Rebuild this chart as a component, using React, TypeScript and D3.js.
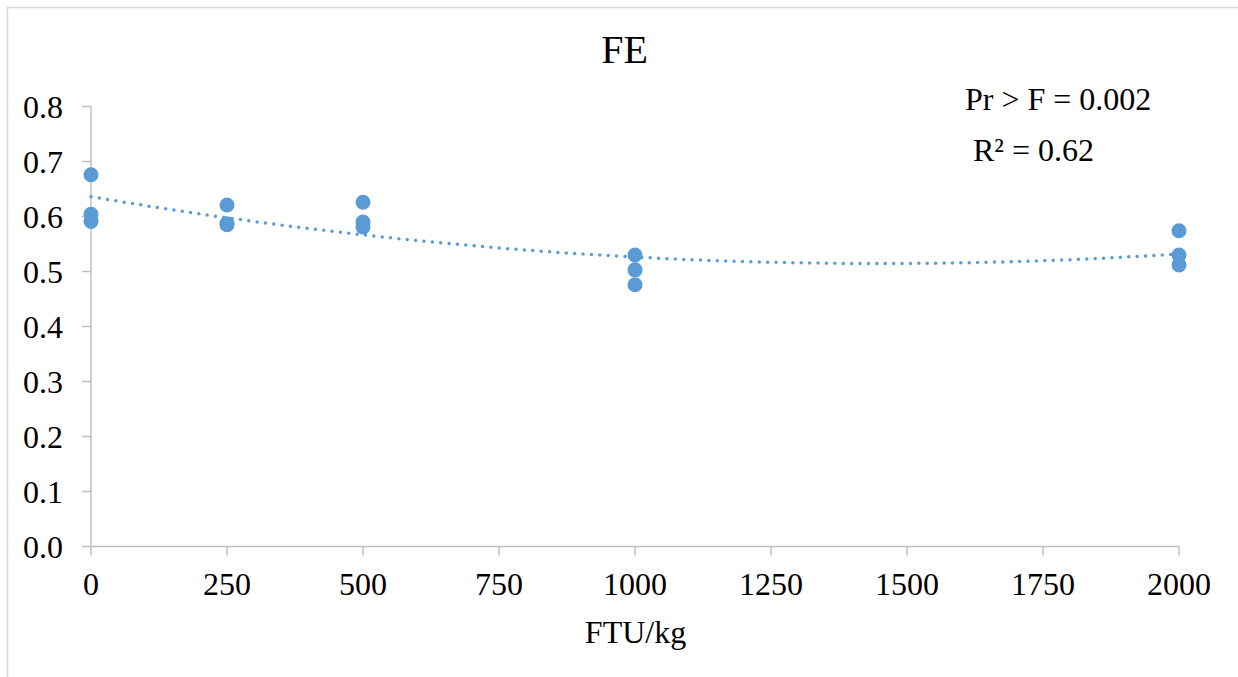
import React from 'react';
import { scaleLinear, line, range, format } from 'd3';

// FTU/kg doses and the FE replicates
const doses = [0, 0, 0, 250, 250, 250, 500, 500, 500, 1000, 1000, 1000, 2000, 2000, 2000];
const feValues = [0.676, 0.604, 0.591, 0.621, 0.585, 0.587, 0.626, 0.59, 0.581, 0.53, 0.503, 0.476, 0.574, 0.53, 0.512];

// quadratic trend (a + b*x + c*x^2) as drawn in the picture
const trendCoefficients = [0.636, -1.676e-4, 5.78e-8];

const xTicks = [0, 250, 500, 750, 1000, 1250, 1500, 1750, 2000];
const yTicks = [0, 0.1, 0.2, 0.3, 0.4, 0.5, 0.6, 0.7, 0.8];

const title = 'FE';
const xTitle = 'FTU/kg';
const notes = ['Pr > F = 0.002', 'R² = 0.62'];

const W = 1238;
const H = 677;
const FONT = "'Liberation Serif', 'Times New Roman', Times, serif";
const BLUE = '#5b9bd5';
const AXIS = '#bfbfbf';
const FS = 32;

export default function App() {
  const x = scaleLinear().domain([0, 2000]).range([91, 1179]);
  const y = scaleLinear().domain([0, 0.8]).range([546.5, 106.5]);

  const trend = (v: number) =>
    trendCoefficients[0] + trendCoefficients[1] * v + trendCoefficients[2] * v * v;

  // evaluate the fitted curve along the axis so it draws smooth
  const trendPath = line<number>()
    .x((d) => x(d))
    .y((d) => y(trend(d)))(range(0, 2001, 10));

  const fmtY = format('.1f');
  const txt = { fontFamily: FONT };

  return (
    <svg
      width={W}
      height={H}
      style={{ position: 'fixed', left: 0, top: 0, background: '#fff', fontFamily: FONT }}
    >
      <rect x={7.5} y={7.5} width={W + 10} height={H + 10} fill="#fff" stroke="#d9d9d9" strokeWidth={1.5} />

      <text x={624.5} y={63} fontSize={40} textAnchor="middle" fill="#000" style={txt}>
        {title}
      </text>

      {/* y axis */}
      <line x1={x(0)} x2={x(0)} y1={y(0)} y2={y(0.8)} stroke={AXIS} strokeWidth={1.5} />
      {yTicks.map((t) => (
        <g key={'y' + t}>
          <line x1={x(0) - 9} x2={x(0)} y1={y(t)} y2={y(t)} stroke={AXIS} strokeWidth={1.5} />
          <text x={63} y={y(t)} dy="0.35em" fontSize={FS} textAnchor="end" fill="#000" style={txt}>
            {fmtY(t)}
          </text>
        </g>
      ))}

      {/* x axis */}
      <line x1={x(0)} x2={x(2000)} y1={y(0)} y2={y(0)} stroke={AXIS} strokeWidth={1.5} />
      {xTicks.map((t) => (
        <g key={'x' + t}>
          <line x1={x(t)} x2={x(t)} y1={y(0)} y2={y(0) + 9} stroke={AXIS} strokeWidth={1.5} />
          <text x={x(t)} y={595} fontSize={FS} textAnchor="middle" fill="#000" style={txt}>
            {t}
          </text>
        </g>
      ))}
      <text x={635.5} y={643} fontSize={FS} textAnchor="middle" fill="#000" style={txt}>
        {xTitle}
      </text>

      {/* trend line */}
      <path
        d={trendPath ?? ''}
        fill="none"
        stroke={BLUE}
        strokeWidth={3.5}
        strokeLinecap="round"
        strokeDasharray="0 8.4"
      />

      {doses.map((d, i) => (
        <circle key={i} cx={x(d)} cy={y(feValues[i])} r={7.5} fill={BLUE} />
      ))}

      <text x={965} y={110} fontSize={FS} fill="#000" style={txt}>
        {notes[0]}
      </text>
      <text x={973} y={161} fontSize={FS} fill="#000" style={txt}>
        {notes[1]}
      </text>
    </svg>
  );
}
